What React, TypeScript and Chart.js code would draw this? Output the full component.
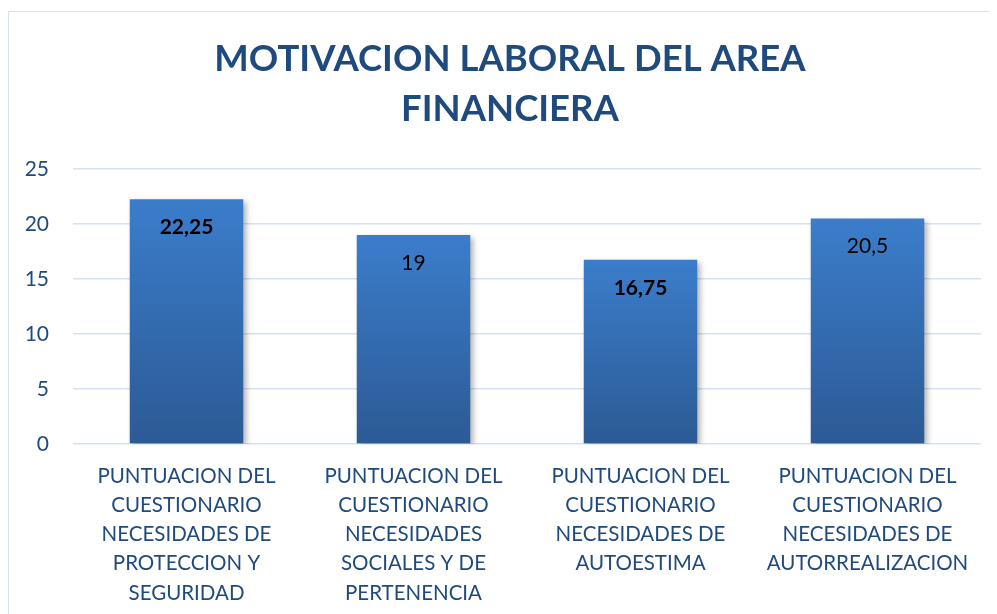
import React, { useEffect, useRef } from "react";
import { Chart, registerables } from "chart.js";

Chart.register(...registerables);

const titleLines = ["MOTIVACION LABORAL DEL AREA", "FINANCIERA"];
const categories = [
  ["PUNTUACION DEL", "CUESTIONARIO", "NECESIDADES DE", "PROTECCION Y", "SEGURIDAD"],
  ["PUNTUACION DEL", "CUESTIONARIO", "NECESIDADES", "SOCIALES Y DE", "PERTENENCIA"],
  ["PUNTUACION DEL", "CUESTIONARIO", "NECESIDADES DE", "AUTOESTIMA"],
  ["PUNTUACION DEL", "CUESTIONARIO", "NECESIDADES DE", "AUTORREALIZACION"],
];
const values = [22.25, 19, 16.75, 20.5];
const labelBold = [true, false, true, false];
const yMin = 0;
const yMax = 25;
const yStep = 5;

const W = 1002;
const H = 640;
const FONT = "Lato, 'Noto Sans', sans-serif";
const BLUE_TEXT = "#1F4A7D";

const shadowPlugin = {
  id: "barShadow",
  beforeDatasetsDraw(chart: any) {
    const ctx = chart.ctx;
    ctx.save();
    ctx.shadowColor = "rgba(0,0,0,0.32)";
    ctx.shadowBlur = 6;
    ctx.shadowOffsetX = 3;
    ctx.shadowOffsetY = 3;
  },
  afterDatasetsDraw(chart: any) {
    chart.ctx.restore();
  },
};

const dataLabelPlugin = {
  id: "dataLabels",
  afterDatasetsDraw(chart: any) {
    const ctx = chart.ctx;
    const meta = chart.getDatasetMeta(0);
    meta.data.forEach((bar: any, i: number) => {
      ctx.save();
      ctx.font = `${labelBold[i] ? "bold " : ""}21px ${FONT}`;
      ctx.fillStyle = "#000000";
      ctx.textAlign = "center";
      ctx.textBaseline = "middle";
      ctx.fillText(String(values[i]).replace(".", ","), bar.x, bar.y + 28);
      ctx.restore();
    });
  },
};

export default function App() {
  const ref = useRef<HTMLCanvasElement | null>(null);

  useEffect(() => {
    document.body.style.overflow = "hidden";
    document.documentElement.style.overflow = "hidden";
    const canvas = ref.current;
    if (!canvas) return;
    const chart = new Chart(canvas, {
      type: "bar",
      data: {
        labels: categories,
        datasets: [
          {
            data: values,
            backgroundColor: (c: any) => {
              const ch = c.chart;
              if (!ch.chartArea || c.raw === undefined) return "#3A7BC6";
              const ys = ch.scales.y;
              const top = ys.getPixelForValue(c.raw);
              const bottom = ys.getPixelForValue(0);
              const g = ch.ctx.createLinearGradient(0, top, 0, bottom);
              g.addColorStop(0, "#3B7DCB");
              g.addColorStop(1, "#2C5A95");
              return g;
            },
            borderWidth: 0,
            barPercentage: 0.5,
            categoryPercentage: 1.0,
          },
        ],
      },
      options: {
        responsive: false,
        animation: false,
        devicePixelRatio: 1,
        layout: { padding: 0 },
        plugins: {
          legend: { display: false },
          tooltip: { enabled: false },
          title: {
            display: true,
            text: titleLines,
            color: BLUE_TEXT,
            font: { family: FONT, size: 36.5, weight: "bold", lineHeight: 1.37 },
            padding: { top: 22, bottom: 35 },
          },
        },
        scales: {
          x: {
            grid: { display: false },
            border: { display: false },
            ticks: {
              color: BLUE_TEXT,
              font: { family: FONT, size: 20.5, lineHeight: 1.42 },
              maxRotation: 0,
              autoSkip: false,
              padding: 10,
            },
            afterFit(scale: any) {
              scale.height = H - 432;
              scale.paddingRight = 30;
            },
          },
          y: {
            min: yMin,
            max: yMax,
            grid: { color: "#D6E2F2", lineWidth: 1.5, drawTicks: false },
            border: { display: false },
            ticks: {
              stepSize: yStep,
              color: BLUE_TEXT,
              font: { family: FONT, size: 21 },
              padding: 24,
            },
            afterFit(scale: any) {
              scale.width = 64;
            },
          },
        },
      },
      plugins: [shadowPlugin, dataLabelPlugin],
    });
    return () => chart.destroy();
  }, []);

  return (
    <div style={{ width: 989, height: 606, overflow: "hidden", position: "relative" }}>
      <div
        style={{
          position: "absolute",
          top: 3,
          left: 0,
          width: W,
          height: H,
          border: "1px solid #D9E2EF",
        }}
      >
        <canvas ref={ref} width={W} height={H} style={{ display: "block" }} />
      </div>
    </div>
  );
}
